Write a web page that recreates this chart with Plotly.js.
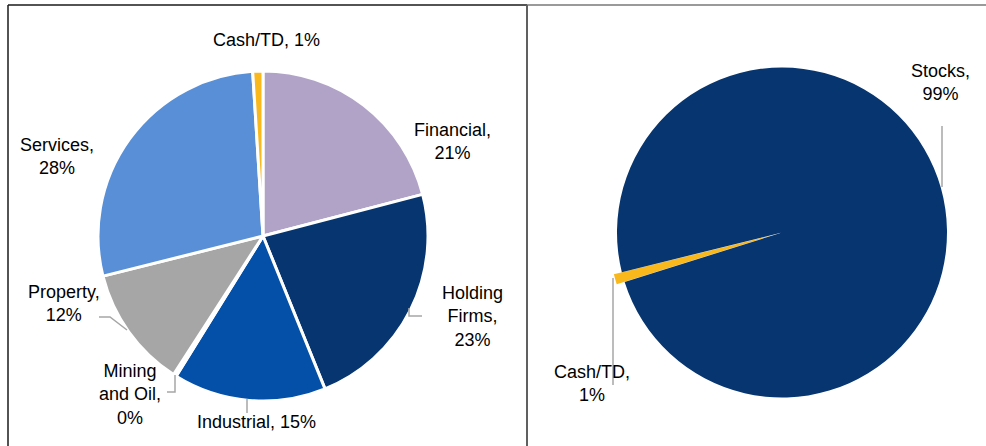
<!DOCTYPE html>
<html>
<head>
<meta charset="utf-8">
<script src="https://cdn.plot.ly/plotly-3.0.1.min.js"></script>
<style>html,body{margin:0;padding:0;background:#fff;}#chart{width:986px;height:446px;}</style>
</head>
<body>
<div id="chart"></div>
<script>
// ---- data ----
var sectorLabels = ['Financial', 'Holding Firms', 'Industrial', 'Mining and Oil', 'Property', 'Services', 'Cash/TD'];
var sectorValues = [21, 23, 15, 0.3, 12, 28, 1];
var sectorColors = ['#b1a3c8', '#06356f', '#0450a8', '#7f7f7f', '#a6a6a6', '#588fd7', '#f9b81b'];

var assetLabels = ['Cash/TD', 'Stocks'];
var assetValues = [1, 99];
var assetColors = ['#f9b81b', '#06356f'];

// ---- helpers (pixel -> paper) ----
var W = 986, H = 446;
function px(x) { return x / W; }
function py(y) { return 1 - y / H; }
function pct(vals, i) {
  var t = vals.reduce(function (a, b) { return a + b; }, 0);
  return Math.round(vals[i] / t * 100) + '%';
}

// label layout: [centerX, centerY, text format]
var leftLabelPos = [
  [452, 141, 'name,<br>pct'],
  [472, 316, 'Holding<br>Firms,<br>pct'],
  [256, 422, 'name, pct'],
  [130, 394, 'Mining<br>and Oil,<br>pct'],
  [64, 303, 'name,<br>pct'],
  [57, 156, 'name,<br>pct'],
  [266, 40, 'name, pct']
];
var rightLabelPos = [
  [592, 383, 'name,<br>pct'],
  [940, 83, 'name,<br>pct']
];

var annotations = [];
function addLabels(labels, vals, pos) {
  labels.forEach(function (l, i) {
    var p = pos[i];
    annotations.push({
      xref: 'paper', yref: 'paper',
      x: px(p[0]), y: py(p[1]),
      xanchor: 'center', yanchor: 'middle',
      showarrow: false, align: 'center',
      text: p[2].replace('name', l).replace('pct', pct(vals, i)),
      font: {family: 'Liberation Sans, Arial, sans-serif', size: 18, color: '#000000'}
    });
  });
}
addLabels(sectorLabels, sectorValues, leftLabelPos);
addLabels(assetLabels, assetValues, rightLabelPos);

// leader lines (pixel polylines)
var leaders = [
  [[409, 308], [409, 316], [422, 316]],
  [[99, 317], [110, 317], [127, 330]],
  [[175, 375], [175, 392], [167, 392]],
  [[247, 399], [247, 413]],
  [[942, 126], [942, 187]],
  [[613, 278], [613, 385]]
];
var shapes = [];
leaders.forEach(function (pts) {
  var d = pts.map(function (p, i) { return (i ? 'L' : 'M') + px(p[0]) + ',' + py(p[1]); }).join(' ');
  shapes.push({type: 'path', xref: 'paper', yref: 'paper', path: d, line: {color: '#a6a6a6', width: 1.5}});
});
// panel frame
function seg(x0, y0, x1, y1, c, w) {
  shapes.push({type: 'line', xref: 'paper', yref: 'paper', x0: px(x0), y0: py(y0), x1: px(x1), y1: py(y1), line: {color: c, width: w}});
}
seg(527, 5, 986, 5, '#9a9a9a', 2);
seg(8, 5, 527, 5, '#1a1a1a', 1.5);
seg(8, 5, 8, 446, '#1a1a1a', 1.5);
seg(527, 5, 527, 446, '#606060', 2);

var traces = [
  {
    type: 'pie',
    labels: sectorLabels,
    values: sectorValues,
    sort: false,
    direction: 'clockwise',
    rotation: 0,
    marker: {colors: sectorColors, line: {color: '#ffffff', width: 3}},
    textinfo: 'none',
    hoverinfo: 'label+percent',
    domain: {x: [px(98), px(428)], y: [py(401), py(71)]},
    showlegend: false
  },
  {
    type: 'pie',
    labels: assetLabels,
    values: assetValues,
    sort: false,
    direction: 'clockwise',
    rotation: 252.5,
    pull: [0.05, 0],
    marker: {colors: assetColors, line: {width: 0}},
    textinfo: 'none',
    hoverinfo: 'label+percent',
    domain: {x: [px(782 - 173.25), px(782 + 173.25)], y: [py(232.5 + 173.25), py(232.5 - 173.25)]},
    showlegend: false
  }
];

var layout = {
  width: W, height: H,
  margin: {l: 0, r: 0, t: 0, b: 0},
  paper_bgcolor: '#ffffff',
  plot_bgcolor: '#ffffff',
  showlegend: false,
  annotations: annotations,
  shapes: shapes
};

Plotly.newPlot('chart', traces, layout, {displayModeBar: false, staticPlot: true});
</script>
</body>
</html>
